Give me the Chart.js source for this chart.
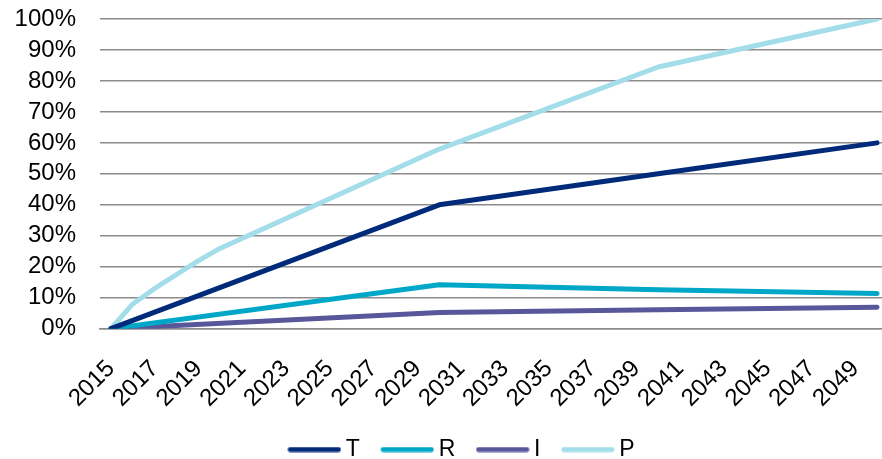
<!DOCTYPE html>
<html>
<head>
<meta charset="utf-8">
<script src="https://cdn.jsdelivr.net/npm/chart.js@4/dist/chart.umd.min.js"></script>
<style>
  html, body { margin: 0; padding: 0; background: #ffffff; overflow: hidden; }
  #wrap { width: 882px; height: 459px; overflow: hidden; position: relative; }
  #box { width: 890px; height: 469px; position: absolute; left: 0; top: 0; }
</style>
</head>
<body>
<div id="wrap"><div id="box"><canvas id="chart"></canvas></div></div>
<script>
// Cumulative share by year (percent)
const yearsP = [2015, 2016, 2017, 2018, 2019, 2020, 2030, 2040, 2050];
const valuesP = [0, 8, 13, 17.5, 22, 26, 58, 84.5, 100];

const yearsTRI = [2015, 2030, 2040, 2050];
const valuesT = [0, 40, 50, 60];
const valuesR = [0, 14.2, 12.6, 11.4];
const valuesI = [0, 5.2, 6.1, 6.9];

// Axis labels
const tickYears = [2015, 2017, 2019, 2021, 2023, 2025, 2027, 2029, 2031, 2033,
                   2035, 2037, 2039, 2041, 2043, 2045, 2047, 2049];
const tickPercents = [0, 10, 20, 30, 40, 50, 60, 70, 80, 90, 100];

const pts = (xs, ys) => xs.map((x, i) => ({ x: x, y: ys[i] }));

const FONT = '"Liberation Sans", Arial, sans-serif';
const LINE_W = 5;

function series(label, xs, ys, color) {
  return {
    label: label,
    data: pts(xs, ys),
    borderColor: color,
    backgroundColor: color,
    borderWidth: LINE_W,
    borderCapStyle: 'round',
    borderJoinStyle: 'round',
    pointRadius: 0,
    pointHoverRadius: 0,
    tension: 0,
    fill: false
  };
}

// Small round-capped line used as the legend marker
function swatch(color) {
  const c = document.createElement('canvas');
  c.width = 54;
  c.height = 6;
  const g = c.getContext('2d');
  g.strokeStyle = color;
  g.lineWidth = LINE_W;
  g.lineCap = 'round';
  g.beginPath();
  g.moveTo(3, 3);
  g.lineTo(51, 3);
  g.stroke();
  return c;
}

// Nudge the legend row after layout
const legendShift = {
  id: 'legendShift',
  afterLayout(chart) {
    const lg = chart.legend;
    if (lg) {
      lg.left += 20.5; lg.right += 20.5;
      lg.top += 2; lg.bottom += 2;
    }
  }
};

new Chart(document.getElementById('chart'), {
  type: 'line',
  data: {
    datasets: [
      series('T', yearsTRI, valuesT, '#002A7A'),
      series('R', yearsTRI, valuesR, '#00A7C7'),
      series('I', yearsTRI, valuesI, '#58579A'),
      series('P', yearsP, valuesP, '#A3DDEA')
    ]
  },
  plugins: [legendShift],
  options: {
    responsive: true,
    maintainAspectRatio: false,
    animation: false,
    layout: { padding: { left: 0, right: 2, top: 19, bottom: 0 } },
    plugins: {
      tooltip: { enabled: false },
      legend: {
        position: 'bottom',
        labels: {
          usePointStyle: true,
          pointStyleWidth: 40,
          boxHeight: 6,
          padding: 27.3,
          color: '#000000',
          font: { family: FONT, size: 23 },
          generateLabels: (chart) => {
            const items = Chart.defaults.plugins.legend.labels.generateLabels(chart);
            items.forEach((it) => {
              it.pointStyle = swatch(chart.data.datasets[it.datasetIndex].borderColor);
            });
            return items;
          }
        }
      }
    },
    scales: {
      x: {
        type: 'linear',
        min: 2014.5,
        max: 2050.5,
        afterBuildTicks: (scale) => { scale.ticks = tickYears.map(v => ({ value: v })); },
        afterFit: (scale) => { scale.height = 80; },
        grid: {
          display: true,
          drawOnChartArea: false,
          drawTicks: true,
          tickLength: 26,
          tickColor: 'rgba(0,0,0,0)'
        },
        border: { display: true, color: '#8c8c8c', width: 1.5 },
        ticks: {
          autoSkip: false,
          minRotation: 45,
          maxRotation: 45,
          padding: 0,
          color: '#000000',
          font: { family: FONT, size: 24 },
          callback: (v) => String(v)
        }
      },
      y: {
        min: 0,
        max: 100,
        afterBuildTicks: (scale) => { scale.ticks = tickPercents.map(v => ({ value: v })); },
        afterFit: (scale) => { scale.width = 100; },
        grid: {
          color: '#8c8c8c',
          lineWidth: 1.5,
          drawTicks: true,
          tickLength: 24,
          tickColor: 'rgba(0,0,0,0)'
        },
        border: { display: false },
        ticks: {
          autoSkip: false,
          padding: 0,
          color: '#000000',
          font: { family: FONT, size: 24 },
          callback: (v) => v + '%'
        }
      }
    }
  }
});
</script>
</body>
</html>
